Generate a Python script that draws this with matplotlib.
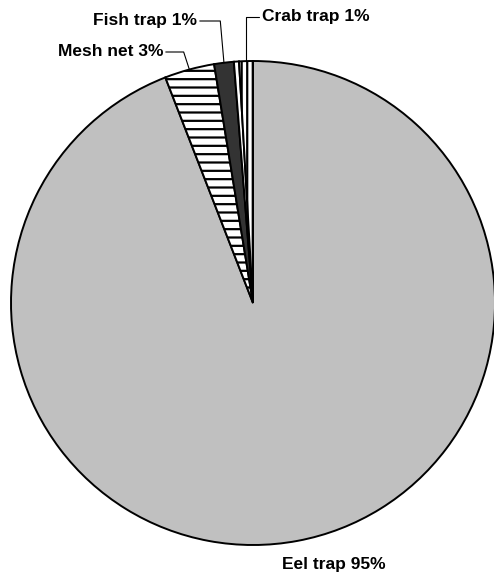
import matplotlib
matplotlib.use("Agg")
import matplotlib.pyplot as plt
import numpy as np

plt.rcParams['hatch.linewidth'] = 1.6

# Data
categories = ["Eel trap", "Mesh net", "Fish trap", "Other", "Crab trap"]
values = [94.1, 3.33, 1.31, 0.34, 0.92]
labels = ["Eel trap 95%", "Mesh net 3%", "Fish trap 1%", "", "Crab trap 1%"]
colors = ["#c0c0c0", "white", "#333333", "white", "white"]
hatches = [None, "--", None, None, "|||"]

W, H = 494, 573
fig = plt.figure(figsize=(W / 100, H / 100), dpi=100)
cx, cy, r = 253, 303, 242
ax = fig.add_axes([(cx - r) / W, (H - cy - r) / H, 2 * r / W, 2 * r / H])

wedges, _ = ax.pie(values, colors=colors, startangle=90, counterclock=False,
                   radius=1, wedgeprops=dict(edgecolor="black", linewidth=1.4),
                   frame=True)
ax.axis("off")
ax.set_xlim(-1, 1)
ax.set_ylim(-1, 1)
for w, h in zip(wedges, hatches):
    if h:
        w.set_hatch(h)

font = dict(family=["Liberation Sans", "DejaVu Sans"], fontweight="bold", fontsize=12.5)

# Label layout (pixel positions in the image)
layout = {
    1: dict(pos=(163, 52), ha="right", relpos=(1, 0.5), angleB=108),
    2: dict(pos=(197, 21), ha="right", relpos=(1, 0.5), angleB=95),
    4: dict(pos=(262, 17), ha="left", relpos=(0, 0.5), angleB=90),
}

for i, w in enumerate(wedges):
    if not labels[i]:
        continue
    ang = np.deg2rad((w.theta1 + w.theta2) / 2)
    ax_pt = (np.cos(ang), np.sin(ang))
    if i == 0:
        fig.text(282 / W, (H - 564) / H, labels[i], ha="left", va="center", **font)
        continue
    L = layout[i]
    ax.annotate(labels[i], xy=ax_pt, xycoords="data",
                xytext=(L["pos"][0] / W, (H - L["pos"][1]) / H),
                textcoords="figure fraction", ha=L["ha"], va="center",
                arrowprops=dict(arrowstyle="-", color="black", lw=0.8,
                                shrinkA=0, shrinkB=0, relpos=L["relpos"],
                                connectionstyle=f"angle,angleA=0,angleB={L['angleB']},rad=0"),
                annotation_clip=False, **font)

fig.savefig("out.png", dpi=100)
